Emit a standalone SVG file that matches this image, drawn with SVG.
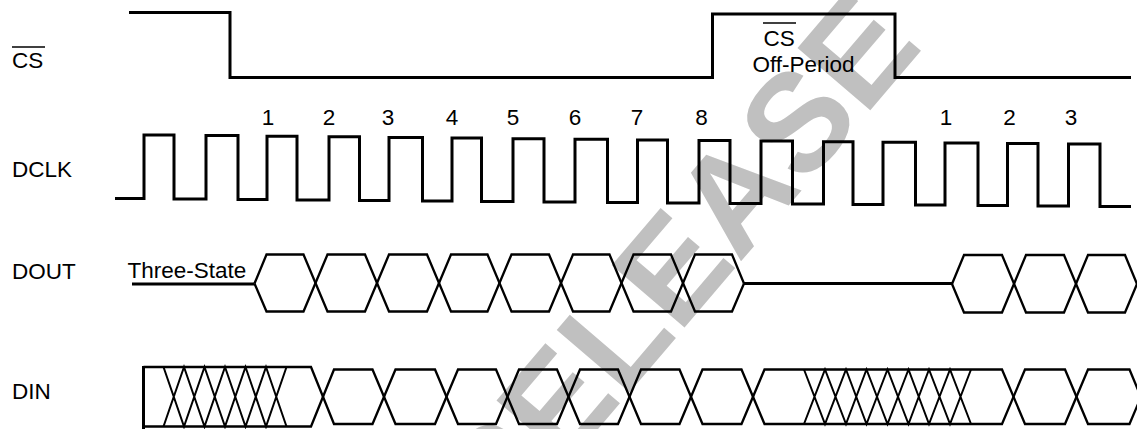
<svg xmlns="http://www.w3.org/2000/svg" width="1137" height="429" viewBox="0 0 1137 429">
<style>
  text { font-family: "Liberation Sans", Arial, sans-serif; font-size: 22.5px; fill: #000; }
  .wm { font-family: "Liberation Sans", Arial, sans-serif; font-weight: bold; font-size: 139px; fill: #c0c0c0; }
  .sig { fill: none; stroke: #000; stroke-width: 3; stroke-linejoin: miter; }
  .bus { fill: none; stroke: #000; stroke-width: 2.3; stroke-linejoin: miter; }
  .hatch { fill: none; stroke: #000; stroke-width: 2; }
  .ovl { stroke: #000; stroke-width: 1.7; }
</style>
<rect width="1137" height="429" fill="#fff"/>

<g id="watermark">
  <text class="wm" transform="translate(498,546) rotate(-49.5)">RELEASE</text>
</g>

<g id="cs">
  <text x="12" y="68">CS</text>
  <line class="ovl" x1="12" y1="47" x2="45" y2="47"/>
  <path class="sig" d="M129,12.5 H230 V77.5 H712.5 V14 H895 V77.5 H1131"/>
  <text x="763.5" y="45.5">CS</text>
  <line class="ovl" x1="763" y1="23" x2="796" y2="23"/>
  <text x="752.5" y="71.5">Off-Period</text>
</g>

<g id="dclk">
  <text x="12" y="177">DCLK</text>
  <path class="sig" d="M115,198.5 H144 V135 H174 V199 H206 V135.6 H238 V199.5 H267 V136.2 H297 V200 H329 V136.8 H359.5 V200.5 H389 V137.4 H422.5 V201 H452 V138 H481.5 V201.5 H513 V138.7 H544 V202 H575 V139.3 H607.5 V202.5 H637.5 V139.9 H667.5 V203 H699 V140.5 H730 V203.5 H761 V141.1 H792.5 V204 H823.5 V141.7 H853 V204.5 H883 V142.3 H915.5 V205 H945 V142.9 H978 V205.5 H1007.5 V143.5 H1038 V206 H1068.5 V144.1 H1100 V206.5 H1131"/>
  <g text-anchor="middle">
    <text x="268" y="125">1</text>
    <text x="329" y="125">2</text>
    <text x="388" y="125">3</text>
    <text x="452" y="125">4</text>
    <text x="513" y="125">5</text>
    <text x="575" y="125">6</text>
    <text x="637" y="125">7</text>
    <text x="701.5" y="125">8</text>
    <text x="946" y="125">1</text>
    <text x="1009.5" y="125">2</text>
    <text x="1071" y="125">3</text>
  </g>
</g>

<g id="dout">
  <text x="12" y="279">DOUT</text>
  <text x="127.5" y="278">Three-State</text>
  <path class="sig" stroke-width="2.7" d="M132,284 H254.5"/>
  <path class="bus" d="M254.5,283.5 L266.5,254.5 H303.5 L327.5,311.5 H365 L389,254.5 H427 L451,311.5 H487.5 L511.5,254.5 H549 L573,311.5 H609.5 L633.5,254.5 H671 L695,311.5 H732 L744,283.5"/>
  <path class="bus" d="M254.5,283.5 L266.5,311.5 H303.5 L327.5,254.5 H365 L389,311.5 H427 L451,254.5 H487.5 L511.5,311.5 H549 L573,254.5 H609.5 L633.5,311.5 H671 L695,254.5 H732 L744,283.5"/>
  <path class="sig" stroke-width="2.7" d="M744,283.5 H952"/>
  <path class="bus" d="M952,284 L964,255 H1002 L1026,312.5 H1064 L1088,255 H1125 L1137,284"/>
  <path class="bus" d="M952,284 L964,312.5 H1002 L1026,255 H1064 L1088,312.5 H1125 L1137,284"/>
</g>

<g id="din">
  <text x="12" y="399">DIN</text>
  <path class="sig" d="M143.5,366 V429"/>
  <path class="bus" d="M143.5,367 H311 L334,424 H372.5 L395.5,369.5 H435 L458,424 H496 L519,369.5 H557 L580,424 H618 L641,369.5 H679.5 L702.5,424 H741.5 L764.5,369.5 H1002 L1025,424 H1065 L1088,369.5 H1129.5 L1141,397"/>
  <path class="bus" d="M143.5,426.5 H311 L334,369.5 H372.5 L395.5,424 H435 L458,369.5 H496 L519,424 H557 L580,369.5 H618 L641,424 H679.5 L702.5,369.5 H741.5 L764.5,424 H1002 L1025,369.5 H1065 L1088,424 H1129.5 L1141,397"/>
  <path class="hatch" d="M163.5,367 L184,426.5 L204.5,367 L225,426.5 L245.5,367 L266,426.5 L286.5,367 M163.5,426.5 L184,367 L204.5,426.5 L225,367 L245.5,426.5 L266,367 L286.5,426.5"/>
  <path class="hatch" d="M804,369.5 L825,424 L846,369.5 L866.5,424 L887.5,369.5 L908.5,424 L929,369.5 L950,424 L971,369.5 M804,424 L825,369.5 L846,424 L866.5,369.5 L887.5,424 L908.5,369.5 L929,424 L950,369.5 L971,424"/>
</g>
</svg>
